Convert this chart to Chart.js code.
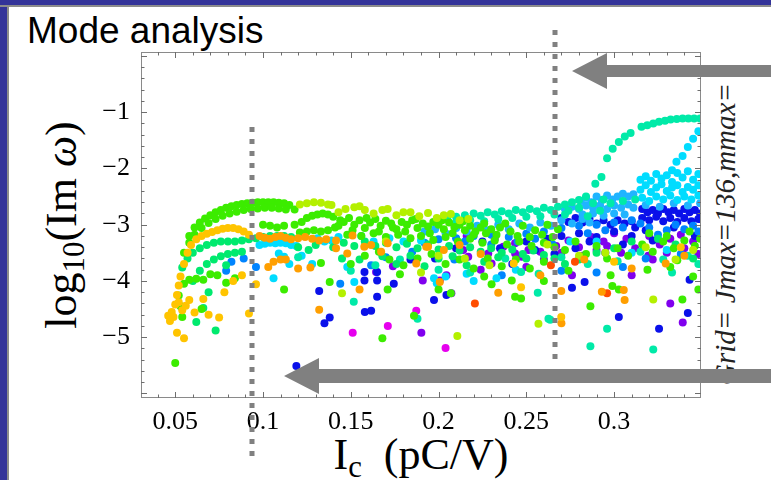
<!DOCTYPE html>
<html>
<head>
<meta charset="utf-8">
<title>Mode analysis</title>
<script src="https://cdn.jsdelivr.net/npm/chart.js@4.4.1/dist/chart.umd.min.js"></script>
<style>
  html, body { margin: 0; padding: 0; background: #fff; }
  #slide { position: relative; width: 771px; height: 480px; overflow: hidden; background: #fff; }
  #edgeLeft { position: absolute; left: 0; top: 0; width: 7px; height: 480px; background: #333399; border-right: 2px solid #8c8c8c; }
  #edgeTop { position: absolute; left: 0; top: 0; width: 771px; height: 5px; background: #333399; border-bottom: 2px solid #8c8c8c; }
  .txt { position: absolute; white-space: nowrap; z-index: 1; color: #000; }
  #heading { left: 27px; top: 12px; font: 37px/37px "Liberation Sans", Arial, sans-serif; }
  #xTitle { left: 421px; top: 433px; transform: translateX(-50%); font: 44px/44px "Liberation Serif", "Times New Roman", serif; }
  #yTitle { left: 62px; top: 225px; transform: translate(-50%, -50%) rotate(-90deg); font: 44px/44px "Liberation Serif", "Times New Roman", serif; }
  #gridNote { left: 725px; top: 234px; transform: translate(-50%, -50%) rotate(-90deg); font: italic 29px/29px "Liberation Serif", "Times New Roman", serif; color: #222; }
  sub { font-size: 0.7em; vertical-align: -0.25em; line-height: 0; }
  canvas { position: absolute; left: 0; top: 0; z-index: 2; }
</style>
</head>
<body>
<div id="slide">
  <div id="edgeLeft"></div>
  <div id="edgeTop"></div>
  <div class="txt" id="heading">Mode analysis</div>
  <div class="txt" id="yTitle">log<sub>10</sub>(Im <i>ω</i>)</div>
  <div class="txt" id="xTitle">I<sub>c</sub>&nbsp;&nbsp;(pC/V)</div>
  <div class="txt" id="gridNote">Grid= Jmax=136,mmax=</div>
  <canvas id="modes" width="771" height="480"></canvas>
</div>
<script>
// growth rates log10(Im w) against Ic, grouped by marker colour
const yellowModes = [
  [0.046,-4.62],[0.047,-4.71],[0.048,-4.55],[0.049,-4.64],[0.050,-4.42],[0.051,-4.25],[0.052,-4.08],[0.053,-3.92],
  [0.055,-3.7],[0.057,-3.5],[0.059,-3.36],[0.062,-3.26],[0.065,-3.2],[0.068,-3.16],[0.071,-3.13],[0.074,-3.1],
  [0.077,-3.07],[0.080,-3.06],[0.083,-3.06],[0.086,-3.08],[0.089,-3.12],[0.092,-3.18],
  [0.052,-4.38],[0.054,-4.52],[0.056,-4.44],[0.058,-4.34],[0.051,-4.92],[0.055,-5.02],[0.061,-4.56],[0.066,-4.32],
  [0.069,-4.6],[0.075,-4.65],[0.078,-4.2],[0.083,-4.0],[0.088,-3.9],[0.092,-4.58],[0.096,-4.06],
  [0.2428,-3.69],[0.247,-4.11],[0.2699,-4.64],[0.300,-3.66],[0.338,-3.4]
];
const orangeModes = [
  [0.098,-3.2],[0.101,-3.23],[0.104,-3.25],[0.107,-3.22],[0.110,-3.2],[0.113,-3.23],[0.116,-3.26],[0.120,-3.24],
  [0.124,-3.22],[0.128,-3.25],[0.132,-3.28],[0.136,-3.26],[0.103,-3.75],[0.106,-3.66],[0.110,-3.62],[0.113,-3.62],
  [0.120,-3.78],[0.127,-3.76],[0.132,-4.51],[0.1416,-3.28],[0.1416,-3.42],[0.148,-3.51],[0.151,-3.19],[0.1577,-3.39],
  [0.1616,-3.36],[0.1673,-3.48],[0.171,-3.33],[0.1873,-3.69],[0.194,-3.39],[0.2007,-4.02],[0.155,-4.15],[0.234,-4.21],
  [0.293,-4.19],[0.3055,-4.16],[0.306,-4.34],[0.270,-4.75],[0.2699,-4.18],[0.3294,-3.69],[0.193,-3.39],[0.203,-3.45],
  [0.212,-3.36],[0.224,-3.52],[0.258,-3.9],[0.283,-3.62],[0.310,-3.78],[0.340,-3.55]
];
const redModes = [[0.2207,-4.40],[0.2777,-3.66],[0.296,-4.22],[0.264,-3.72]];
const limeModes = [
  [0.121,-2.64],[0.125,-2.62],[0.129,-2.6],[0.133,-2.61],[0.137,-2.64],[0.139,-2.65],[0.143,-2.78],[0.147,-2.72],
  [0.152,-2.69],[0.155,-2.67],[0.158,-2.74],[0.163,-2.8],[0.168,-2.74],[0.171,-2.72],[0.176,-2.83],[0.180,-2.78],
  [0.184,-2.78],[0.189,-2.85],[0.194,-2.79],[0.199,-2.88],[0.203,-2.83],[0.207,-2.81],[0.212,-2.92],[0.217,-2.9],
  [0.145,-4.22],[0.2107,-4.98],[0.2569,-4.76],[0.3223,-4.33],[0.190,-3.85],[0.215,-3.6],[0.229,-3.72],[0.262,-3.35],
  [0.280,-3.55],[0.295,-3.5],[0.318,-3.4],[0.335,-3.62],[0.345,-3.45],[0.200,-3.55],[0.170,-3.3]
];
const greenModes = [
  [0.058,-3.2],[0.061,-3.05],[0.064,-2.96],[0.067,-2.89],[0.070,-2.83],[0.073,-2.78],[0.076,-2.74],[0.079,-2.7],
  [0.082,-2.67],[0.085,-2.65],[0.088,-2.63],[0.091,-2.62],[0.094,-2.61],[0.097,-2.6],[0.100,-2.6],[0.103,-2.6],
  [0.106,-2.6],[0.109,-2.61],[0.112,-2.62],[0.115,-2.65],[0.118,-2.73],
  [0.055,-3.5],[0.058,-3.32],[0.061,-3.18],[0.065,-3.06],[0.069,-2.97],[0.073,-2.9],[0.077,-2.84],[0.081,-2.8],
  [0.085,-2.77],[0.089,-2.74],[0.093,-2.72],[0.097,-2.71],[0.101,-2.7],[0.105,-2.7],[0.109,-2.71],[0.113,-2.73],
  [0.122,-2.95],[0.125,-2.88],[0.128,-2.84],[0.131,-2.82],[0.134,-2.8],[0.137,-2.82],[0.140,-2.86],[0.144,-2.92],
  [0.121,-3.14],[0.125,-3.12],[0.129,-3.1],[0.133,-3.12],[0.137,-3.1],[0.141,-3.05],[0.118,-3.0],[0.108,-3.05],
  [0.104,-3.02],[0.100,-3.0],[0.112,-3.02],
  [0.052,-4.26],[0.053,-4.45],[0.054,-4.64],[0.055,-4.05],[0.058,-3.98],[0.062,-3.96],[0.066,-3.98],[0.070,-3.88],
  [0.074,-3.9],[0.079,-4.03],[0.084,-3.95],[0.050,-5.46],[0.065,-4.5],[0.112,-4.15],[0.138,-4.02],[0.133,-3.68],
  [0.146,-2.95],[0.149,-2.88],[0.152,-3.0],[0.155,-2.92],[0.158,-3.06],[0.161,-2.96],[0.164,-2.9],[0.167,-3.02],
  [0.170,-2.93],[0.173,-2.98],[0.176,-3.08],[0.179,-2.95],[0.182,-3.0],[0.185,-2.92],[0.188,-3.06],[0.191,-2.98],
  [0.194,-3.03],[0.197,-2.95],[0.200,-3.0],[0.203,-3.08],[0.206,-2.96],[0.209,-3.04],[0.212,-3.0],[0.215,-3.1],
  [0.218,-3.02],[0.221,-3.12],[0.224,-3.05],[0.227,-3.15],[0.230,-3.08],[0.233,-3.18],
  [0.143,-3.02],[0.151,-3.1],[0.159,-2.88],[0.166,-3.12],[0.174,-3.05],[0.181,-3.12],[0.187,-2.9],[0.195,-3.15],
  [0.202,-2.92],[0.208,-3.15],[0.214,-2.94],[0.220,-3.18],[0.226,-2.98],[0.235,-3.05],[0.241,-3.12],[0.248,-3.02],
  [0.255,-3.1],[0.262,-3.0],[0.268,-3.08],[0.238,-2.98],[0.245,-3.2],[0.252,-3.22],[0.259,-3.18],[0.265,-3.22],
  [0.148,-3.18],[0.156,-3.2],[0.163,-3.15],[0.170,-3.22],[0.177,-3.18],[0.184,-3.24],[0.190,-3.2],[0.197,-3.27],
  [0.204,-3.22],[0.211,-3.3],[0.218,-3.25],[0.225,-3.32],[0.232,-3.28],[0.239,-3.35],[0.246,-3.3],[0.253,-3.38],
  [0.260,-3.32],[0.266,-3.4],
  [0.150,-3.7],[0.158,-3.55],[0.166,-3.48],[0.172,-3.62],[0.180,-3.72],[0.188,-3.6],[0.196,-3.52],[0.204,-3.7],
  [0.212,-3.62],[0.220,-3.78],[0.228,-3.6],[0.236,-3.74],[0.244,-3.62],[0.252,-3.78],[0.260,-3.66],
  [0.171,-4.15],[0.168,-5.02],[0.186,-4.62],[0.200,-4.15],[0.207,-4.22],[0.2302,-4.06],[0.2417,-3.99],[0.2436,-4.28],
  [0.247,-4.31],[0.260,-4.0],[0.2865,-4.45],[0.299,-4.09],[0.3027,-4.15],[0.3389,-4.33],[0.348,-4.15],[0.345,-3.92],
  [0.332,-3.75],[0.336,-3.63],[0.319,-3.8],
  [0.272,-3.45],[0.278,-3.3],[0.284,-3.52],[0.290,-3.38],[0.296,-3.6],[0.302,-3.42],[0.308,-3.55],[0.316,-3.35],
  [0.322,-3.48],[0.328,-3.3],[0.334,-3.42],[0.340,-3.28],[0.346,-3.38],[0.349,-3.25],[0.320,-3.15],[0.330,-3.2],
  [0.343,-3.12],[0.178,-3.88],[0.226,-3.92],[0.274,-3.82],[0.298,-3.9]
];
const seaModes = [
  [0.054,-3.76],[0.057,-3.6],[0.060,-3.5],[0.064,-3.42],[0.068,-3.36],[0.072,-3.32],[0.076,-3.3],[0.080,-3.3],
  [0.084,-3.3],[0.088,-3.28],[0.092,-3.26],[0.096,-3.24],[0.100,-3.22],[0.104,-3.2],[0.108,-3.2],[0.112,-3.2],
  [0.116,-3.22],[0.060,-4.0],[0.064,-3.82],[0.068,-3.7],[0.072,-3.62],[0.076,-3.56],[0.080,-3.52],[0.084,-3.5],
  [0.088,-3.48],[0.062,-4.73],[0.066,-4.48],[0.069,-4.2],[0.073,-4.88],[0.079,-3.72],[0.120,-3.4],[0.126,-3.45],
  [0.130,-3.36],[0.140,-3.4],[0.146,-3.32],[0.152,-3.38],[0.158,-3.3],[0.164,-3.38],[0.170,-3.32],[0.176,-3.4],
  [0.182,-3.34],[0.188,-3.42],[0.194,-3.35],[0.200,-3.44],[0.206,-3.38],[0.212,-3.46],[0.218,-3.4],[0.224,-3.48],
  [0.230,-3.42],[0.236,-3.5],[0.242,-3.44],[0.248,-3.52],[0.254,-3.46],[0.260,-3.54],
  [0.145,-3.6],[0.155,-3.62],[0.168,-3.56],[0.176,-3.7],[0.184,-3.55],[0.192,-3.74],[0.200,-3.6],[0.208,-3.56],
  [0.216,-3.72],[0.226,-3.66],[0.234,-3.58],[0.250,-3.6],[0.266,-3.6],[0.272,-3.7],[0.280,-3.62],[0.290,-3.5],
  [0.300,-3.42],[0.310,-3.3],[0.325,-3.25],[0.335,-3.35],[0.345,-3.6]
];
const tealModes = [
  [0.205,-2.9],[0.210,-2.86],[0.215,-2.83],[0.220,-2.8],[0.224,-2.84],[0.228,-2.78],[0.232,-2.82],[0.236,-2.76],
  [0.240,-2.8],[0.244,-2.74],[0.248,-2.78],[0.252,-2.72],[0.256,-2.76],[0.260,-2.7],[0.264,-2.74],[0.268,-2.68],
  [0.272,-2.64],[0.276,-2.6],[0.280,-2.56],[0.284,-2.5],
  [0.2893,-2.27],[0.2928,-2.15],[0.2960,-1.82],[0.2992,-1.65],[0.3027,-1.53],[0.3061,-1.43],[0.3094,-1.37],
  [0.3156,-1.26],[0.3189,-1.23],[0.3223,-1.2],[0.3256,-1.17],[0.3290,-1.15],[0.3322,-1.13],[0.3357,-1.12],
  [0.3390,-1.11],[0.3423,-1.11],[0.3456,-1.11],[0.3490,-1.11],
  [0.210,-2.95],[0.218,-2.92],[0.226,-2.94],[0.234,-2.9],[0.242,-2.88],[0.250,-2.86],[0.258,-2.85],[0.266,-2.82],
  [0.274,-2.75],[0.280,-2.7],[0.288,-2.62],[0.294,-2.55],[0.292,-2.75],[0.298,-2.62],[0.305,-2.58],[0.312,-2.55],
  [0.272,-2.82],[0.285,-2.85],
  [0.2565,-4.21],[0.2636,-4.69],[0.2865,-5.16],[0.296,-4.85],[0.3223,-5.22],[0.1517,-4.37],[0.188,-4.67],
  [0.120,-3.58],[0.150,-3.82],[0.164,-3.72],[0.178,-3.62],[0.200,-3.8],[0.218,-3.85],[0.238,-3.6],[0.270,-3.58],
  [0.285,-3.7],[0.302,-3.65],[0.315,-3.48],[0.328,-3.62],[0.342,-3.55],[0.348,-3.7],[0.333,-3.85],[0.247,-3.84],
  [0.257,-3.87],[0.2626,-4.67]
];
const cyanModes = [
  [0.098,-3.36],[0.101,-3.34],[0.104,-3.32],[0.107,-3.33],[0.110,-3.32],[0.113,-3.33],[0.116,-3.36],[0.109,-3.51],
  [0.112,-3.57],[0.115,-3.7],[0.106,-3.95],[0.119,-3.38],[0.122,-3.55],[0.128,-3.7],[0.131,-3.24],[0.135,-3.3],
  [0.139,-3.28],[0.143,-3.22],[0.148,-3.75],[0.156,-3.2],[0.163,-3.3],[0.172,-3.24],[0.180,-3.3],[0.190,-3.28],
  [0.1974,-3.95],[0.199,-4.04],[0.204,-3.92],[0.216,-3.87],[0.220,-4.0],[0.233,-3.95],[0.244,-3.8],[0.152,-4.02],
  [0.275,-3.3],[0.290,-3.3],[0.310,-3.5],[0.330,-3.45],
  [0.3480,-1.34],[0.3450,-1.47],[0.3420,-1.62],[0.3390,-1.78],[0.3355,-1.88],[0.3330,-2.03],
  [0.315,-2.2],[0.318,-2.14],[0.321,-2.22],[0.324,-2.1],[0.327,-2.18],[0.330,-2.12],[0.333,-2.24],[0.336,-2.08],
  [0.339,-2.16],[0.342,-2.05],[0.345,-2.2],[0.348,-2.1],
  [0.315,-2.38],[0.318,-2.3],[0.321,-2.42],[0.324,-2.34],[0.327,-2.28],[0.330,-2.4],[0.333,-2.34],[0.336,-2.3],
  [0.339,-2.42],[0.342,-2.33],[0.345,-2.38],[0.348,-2.3],
  [0.316,-2.52],[0.320,-2.58],[0.324,-2.5],[0.328,-2.55],[0.332,-2.48],[0.336,-2.56],[0.340,-2.5],[0.344,-2.55],
  [0.348,-2.48]
];
const azureModes = [
  [0.281,-2.58],[0.284,-2.52],[0.287,-2.6],[0.290,-2.5],[0.293,-2.56],[0.296,-2.48],[0.299,-2.55],[0.302,-2.5],
  [0.305,-2.45],[0.308,-2.5],[0.311,-2.46],[0.272,-2.72],[0.276,-2.68],[0.280,-2.72],[0.284,-2.66],[0.288,-2.7],
  [0.292,-2.66],[0.296,-2.72],[0.300,-2.66],[0.304,-2.7],[0.308,-2.64],[0.311,-2.7],[0.282,-2.82],[0.288,-2.8],
  [0.294,-2.84],[0.300,-2.8],[0.306,-2.82],
  [0.192,-3.12],[0.198,-3.08],[0.204,-3.15],[0.210,-3.06],[0.216,-3.12],[0.222,-3.02],[0.228,-3.1],[0.234,-3.0],
  [0.240,-3.08],[0.246,-2.98],[0.252,-3.05],[0.258,-2.96],[0.264,-3.02],[0.270,-2.92],[0.276,-2.98],[0.282,-2.9],
  [0.286,-2.96],[0.318,-2.65],[0.326,-2.68],[0.334,-2.62],[0.342,-2.66],[0.349,-2.62]
];
const skyModes = [
  [0.079,-3.82],[0.082,-3.66],[0.089,-3.6],[0.096,-3.75],[0.144,-4.05],[0.1616,-3.72],[0.170,-3.58],[0.185,-3.48],
  [0.192,-3.32],[0.200,-3.26],[0.210,-3.24],[0.220,-3.2],[0.230,-3.18],[0.240,-3.22],[0.250,-3.16],[0.260,-3.12],
  [0.270,-3.06],[0.280,-3.02],[0.290,-3.0],[0.300,-2.96],[0.310,-2.92],[0.320,-3.05],[0.330,-3.1],[0.340,-3.08],
  [0.348,-3.12],[0.209,-3.62],[0.236,-3.9],[0.270,-3.82],[0.290,-3.85],[0.305,-3.75],[0.318,-3.6],[0.338,-3.52],
  [0.265,-3.35],[0.285,-3.15],[0.295,-3.1],[0.305,-3.05],[0.315,-2.98],[0.325,-3.18],[0.335,-3.0],[0.345,-3.02],
  [0.215,-3.3],[0.230,-3.35],[0.245,-3.3],[0.255,-3.25]
];
const blueModes = [
  [0.119,-5.51],[0.132,-4.18],[0.135,-4.75],[0.138,-4.65],[0.1578,-3.84],[0.1578,-3.99],[0.165,-3.84],[0.165,-3.99],
  [0.165,-4.28],[0.1616,-4.53],[0.158,-4.55],[0.1745,-4.05],[0.184,-3.62],[0.1974,-4.34],[0.2045,-4.25],[0.2832,-4.02],
  [0.276,-4.12],[0.3027,-4.64],[0.3256,-4.85],[0.342,-4.57],[0.343,-3.98],
  [0.270,-2.88],[0.274,-2.95],[0.278,-2.88],[0.282,-2.96],[0.286,-2.9],[0.290,-2.98],[0.294,-2.92],[0.298,-3.0],
  [0.302,-2.92],[0.306,-2.98],[0.310,-2.94],
  [0.316,-2.72],[0.319,-2.78],[0.322,-2.74],[0.325,-2.8],[0.328,-2.72],[0.331,-2.78],[0.334,-2.74],[0.337,-2.8],
  [0.340,-2.72],[0.343,-2.78],[0.346,-2.74],[0.349,-2.8],
  [0.316,-2.88],[0.320,-2.92],[0.324,-2.86],[0.328,-2.94],[0.332,-2.88],[0.336,-2.95],[0.340,-2.88],[0.344,-2.94],
  [0.348,-2.9],[0.225,-3.3],[0.235,-3.42],[0.250,-3.3],[0.262,-3.25],[0.280,-3.15],[0.290,-3.22],[0.300,-3.12],
  [0.310,-3.2],[0.318,-3.1],
  [0.266,-3.52],[0.278,-3.42],[0.286,-3.3],[0.295,-3.5],[0.305,-3.35],[0.312,-3.05],[0.322,-3.28],[0.334,-3.05],
  [0.346,-3.2],[0.270,-3.2],[0.255,-3.45],[0.242,-3.7],[0.210,-3.42],[0.198,-3.6]
];
const violetModes = [
  [0.1644,-3.84],[0.174,-3.74],[0.191,-3.99],[0.2007,-3.99],[0.2045,-3.9],[0.2073,-4.22],[0.1902,-4.92],[0.214,-3.45],
  [0.2169,-3.57],[0.2283,-3.51],[0.2302,-3.69],[0.2369,-3.39],[0.2436,-3.51],[0.2474,-3.57],[0.2512,-3.45],[0.2436,-3.33],
  [0.258,-3.48],[0.267,-3.38],[0.274,-3.28],[0.280,-3.4],[0.287,-3.22],[0.294,-3.3],[0.300,-3.15],[0.307,-3.25],
  [0.320,-3.2],[0.326,-3.35],[0.332,-3.25],[0.338,-3.18],[0.345,-3.3],[0.332,-4.4],[0.3391,-4.74],[0.3195,-3.55],
  [0.260,-3.62],[0.270,-3.5],[0.282,-3.55],[0.290,-3.45],[0.296,-3.38],[0.304,-3.5],[0.312,-3.42],[0.322,-3.62],
  [0.330,-3.5],[0.340,-3.42],[0.348,-3.52],[0.224,-3.8],[0.250,-3.75],[0.276,-3.9],[0.310,-3.9],[0.216,-3.2],
  [0.232,-3.25]
];
const magentaModes = [[0.1511,-4.92],[0.1711,-4.8],[0.1873,-4.53],[0.204,-5.19]];

const modeGroups = [
  ['#ffc400', yellowModes], ['#ff9f00', orangeModes], ['#ff4d00', redModes], ['#b4f000', limeModes],
  ['#3cec00', greenModes], ['#00ea6e', seaModes], ['#00eaa8', tealModes], ['#00dcff', cyanModes],
  ['#20b4ff', azureModes], ['#0084ff', skyModes], ['#0a10ea', blueModes], ['#8000ee', violetModes],
  ['#e600ee', magentaModes]
];

const xTickValues = [0.05, 0.1, 0.15, 0.2, 0.25, 0.3];
const yTickValues = [-1, -2, -3, -4, -5];
const markerCurrents = [0.0935, 0.2663];

// inward frame ticks on all four sides, like the original plot
const frameTicks = {
  id: 'frameTicks',
  afterDatasetsDraw(chart) {
    const { ctx, chartArea: a, scales: { x, y } } = chart;
    ctx.save();
    ctx.strokeStyle = '#8a8a8a';
    ctx.lineWidth = 1;
    ctx.strokeRect(a.left + 0.5, a.top + 0.5, a.right - a.left - 1, a.bottom - a.top - 1);
    ctx.strokeStyle = '#6e6e6e';
    ctx.beginPath();
    for (let i = Math.ceil(x.min * 100); i <= Math.floor(x.max * 100); i++) {
      const px = Math.round(x.getPixelForValue(i / 100)) + 0.5;
      const len = i % 5 === 0 ? 6 : 3.5;
      ctx.moveTo(px, a.bottom); ctx.lineTo(px, a.bottom - len);
      ctx.moveTo(px, a.top); ctx.lineTo(px, a.top + len);
    }
    for (let j = Math.ceil(y.min * 5); j <= Math.floor(y.max * 5); j++) {
      const py = Math.round(y.getPixelForValue(j / 5)) + 0.5;
      const len = j % 5 === 0 ? 6 : 3.5;
      ctx.moveTo(a.left, py); ctx.lineTo(a.left + len, py);
      ctx.moveTo(a.right, py); ctx.lineTo(a.right - len, py);
    }
    ctx.stroke();
    ctx.restore();
  },
  afterDraw(chart) {
    const { ctx, scales: { x } } = chart;
    ctx.save();
    // dotted markers
    ctx.strokeStyle = '#808080';
    ctx.lineWidth = 5;
    ctx.setLineDash([5, 7]);
    const spans = [[127, 458], [30, 360]];
    markerCurrents.forEach((v, i) => {
      const px = Math.round(x.getPixelForValue(v));
      ctx.beginPath();
      ctx.moveTo(px, spans[i][0]);
      ctx.lineTo(px, spans[i][1]);
      ctx.stroke();
    });
    ctx.setLineDash([]);
    // arrows
    ctx.fillStyle = '#808080';
    const arrow = (tipX, cy, headLen, headHalf, shaftHalf) => {
      ctx.beginPath();
      ctx.moveTo(tipX, cy);
      ctx.lineTo(tipX + headLen, cy - headHalf);
      ctx.lineTo(tipX + headLen, cy - shaftHalf);
      ctx.lineTo(771, cy - shaftHalf);
      ctx.lineTo(771, cy + shaftHalf);
      ctx.lineTo(tipX + headLen, cy + shaftHalf);
      ctx.lineTo(tipX + headLen, cy + headHalf);
      ctx.closePath();
      ctx.fill();
    };
    arrow(572, 71, 35, 18, 6);
    arrow(284, 376, 35, 18, 7);
    ctx.restore();
  }
};

new Chart(document.getElementById('modes'), {
  type: 'scatter',
  data: {
    datasets: modeGroups.map(([color, pts]) => ({
      data: pts.map(([x, y]) => ({ x, y })),
      backgroundColor: color,
      borderWidth: 0,
      pointRadius: 4,
      pointHoverRadius: 4
    }))
  },
  options: {
    responsive: false,
    animation: false,
    events: [],
    layout: { padding: { left: 0, top: 52, right: 70, bottom: 0 } },
    plugins: { legend: { display: false }, tooltip: { enabled: false } },
    scales: {
      x: {
        type: 'linear',
        min: 0.0305,
        max: 0.3495,
        border: { display: false },
        grid: { display: false, drawTicks: false },
        afterFit: s => { s.height = 82; },
        afterBuildTicks: s => { s.ticks = xTickValues.map(v => ({ value: v })); },
        ticks: {
          padding: 9,
          maxRotation: 0,
          autoSkip: false,
          color: '#000',
          font: { family: '"Liberation Serif", "Times New Roman", serif', size: 26 },
          callback: v => String(v)
        }
      },
      y: {
        type: 'linear',
        min: -6.08,
        max: 0.07,
        border: { display: false },
        grid: { display: false, drawTicks: false },
        afterFit: s => { s.width = 141; },
        afterBuildTicks: s => { s.ticks = yTickValues.map(v => ({ value: v })); },
        ticks: {
          padding: 11,
          autoSkip: false,
          color: '#000',
          font: { family: '"Liberation Serif", "Times New Roman", serif', size: 26 },
          callback: v => '\u2212' + Math.abs(v)
        }
      }
    }
  },
  plugins: [frameTicks]
});
</script>
</body>
</html>
